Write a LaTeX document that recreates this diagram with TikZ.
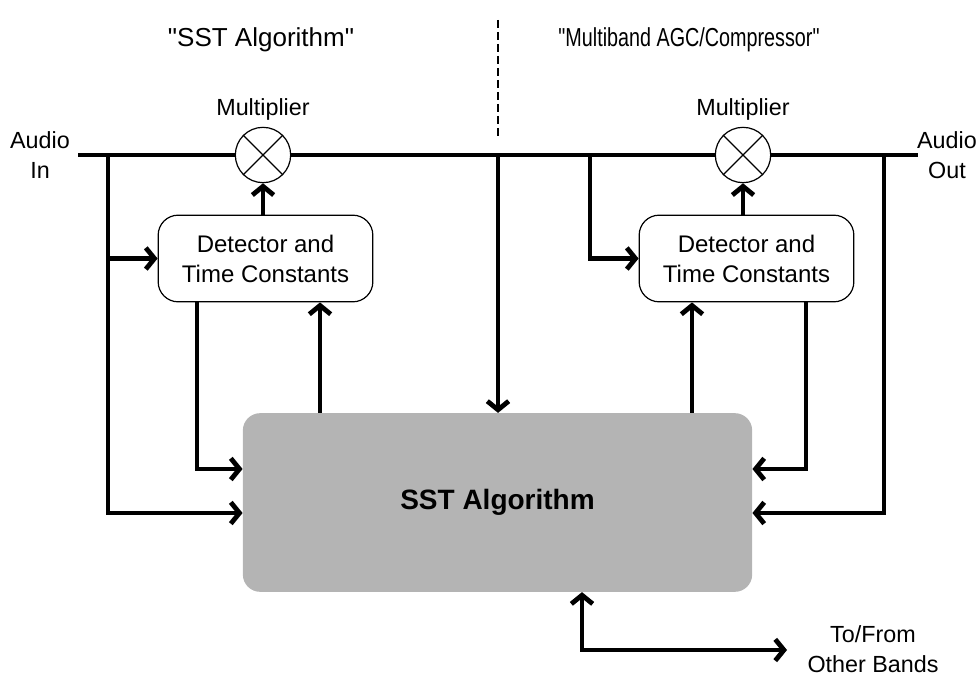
\documentclass[tikz,border=0pt]{standalone}
\usepackage{fontspec}
\usepackage{graphicx}
\setmainfont{Liberation Sans}[Ligatures=TeXOff]
\usetikzlibrary{arrows.meta,calc}

\definecolor{algofill}{RGB}{180,180,180}
\newcommand{\dq}{\symbol{34}}

\tikzset{
  sig/.style={line width=3.6pt},
  sigarr/.style={sig, -{Straight Barb[length=6.5pt,width=16pt]}},
  sigboth/.style={sig, {Straight Barb[length=6.5pt,width=16pt]}-{Straight Barb[length=6.5pt,width=16pt]}},
  mult/.style={circle, draw, line width=0.9pt, minimum size=41.5pt, inner sep=0pt},
  detbox/.style={draw, line width=0.9pt, rounded corners=15pt, minimum width=161pt,
    minimum height=65pt, align=center, font=\fontsize{18}{22.5}\selectfont},
  algobox/.style={fill=algofill, rounded corners=13pt, minimum width=382pt,
    minimum height=134pt, font=\fontsize{21}{25}\selectfont\bfseries},
  lbl/.style={font=\fontsize{17.5}{22}\selectfont, align=center, inner sep=0pt},
}

\begin{document}
\begin{tikzpicture}[x=0.75pt,y=-0.75pt]
  \useasboundingbox (0,0) rectangle (980,677);

  % headings and divider
  \node[lbl, font=\fontsize{19.5}{22}\selectfont] (t1) at (261,40) {\dq SST Algorithm\dq};
  \node[lbl, font=\fontsize{19.5}{22}\selectfont] (t2) at (689,40)
    {\scalebox{0.76}[1]{\dq Multiband AGC/Compressor\dq}};
  \coordinate (dT) at (498,20);
  \coordinate (dB) at (498,138);
  \draw[line width=0.9pt, dash pattern=on 6pt off 3pt] (dT) -- (dB);

  % terminals
  \node[lbl] (ain) at (40,155) {Audio\\In};
  \node[lbl] (aout) at (947,155) {Audio\\Out};
  \coordinate (inEnd) at (78,155);
  \coordinate (outEnd) at (918,155);

  % multipliers
  \node[mult] (mulL) at (263,155) {};
  \node[mult] (mulR) at (743,155) {};
  \foreach \m in {mulL,mulR}{
    \draw[line width=0.9pt] (\m.45) -- (\m.225) (\m.135) -- (\m.315);
  }
  \node[lbl] (mlL) at (263,109) {Multiplier};
  \node[lbl] (mlR) at (743,109) {Multiplier};

  % detectors
  \node[detbox] (detL) at (265.5,258.5) {Detector and\\Time Constants};
  \node[detbox] (detR) at (746.5,258.5) {Detector and\\Time Constants};

  % central processor
  \node[algobox] (sst) at (497.5,502.5) {SST Algorithm};

  % routing helpers
  \coordinate (rowA) at (0,469);
  \coordinate (rowB) at (0,513);
  \coordinate (jL) at (108,155);
  \coordinate (cL1) at (197,0);
  \coordinate (cL2) at (320,0);
  \coordinate (jC) at (498,155);
  \coordinate (jR1) at (590,155);
  \coordinate (cR1) at (692,0);
  \coordinate (cR2) at (806,0);
  \coordinate (jR2) at (884,155);
  \coordinate (bc) at (582,0);
  \coordinate (bEnd) at (787,650);

  % audio path
  \draw[sig] (inEnd) -- (mulL.west);
  \draw[sig] (mulL.east) -- (mulR.west);
  \draw[sig] (mulR.east) -- (outEnd);

  % left section
  \draw[sigarr] (jL) |- (sst.west |- rowB);
  \draw[sigarr] (jL |- detL.west) -- (detL.west);
  \draw[sigarr] (detL.south -| cL1) |- (sst.west |- rowA);
  \draw[sigarr] (sst.north -| cL2) -- (detL.south -| cL2);
  \draw[sigarr] (detL.north -| mulL) -- (mulL.south);

  % centre feed
  \draw[sigarr] (jC) -- (sst.north -| jC);

  % right section
  \draw[sigarr] (jR1) |- (detR.west);
  \draw[sigarr] (sst.north -| cR1) -- (detR.south -| cR1);
  \draw[sigarr] (detR.south -| cR2) |- (sst.east |- rowA);
  \draw[sigarr] (jR2) |- (sst.east |- rowB);
  \draw[sigarr] (detR.north -| mulR) -- (mulR.south);

  % link to other bands
  \draw[sigboth] (sst.south -| bc) |- (bEnd);
  \node[lbl] (other) at (873,649) {To/From\\Other Bands};
\end{tikzpicture}
\end{document}
